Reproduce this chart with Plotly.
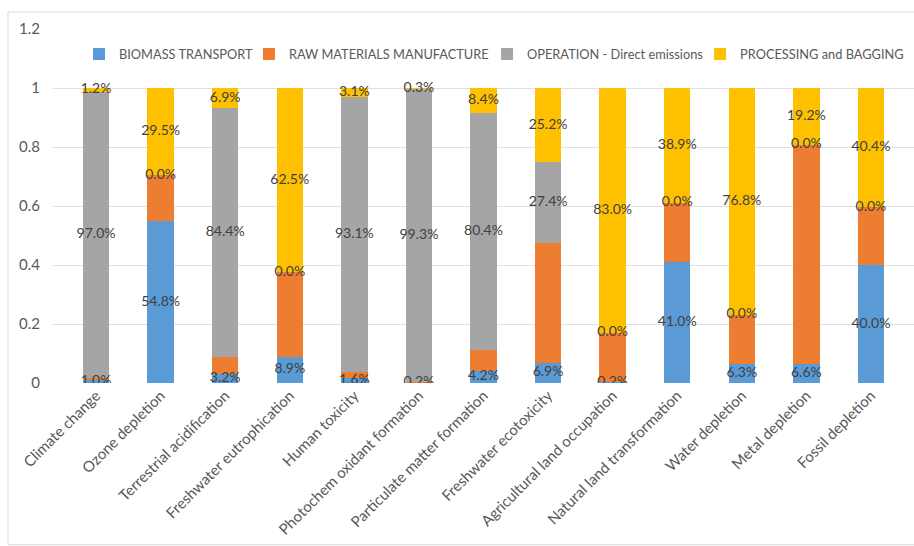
import numpy as np
import plotly.graph_objects as go

categories = ["Climate change", "Ozone depletion", "Terrestrial acidification",
              "Freshwater eutrophication", "Human toxicity", "Photochem oxidant formation",
              "Particulate matter formation", "Freshwater ecotoxicity",
              "Agricultural land occupation", "Natural land transformation",
              "Water depletion", "Metal depletion", "Fossil depletion"]

biomass_transport = [1.0, 54.8, 3.2, 8.9, 1.6, 0.2, 4.2, 6.9, 0.2, 41.0, 6.3, 6.6, 40.0]
raw_materials = [0.8, 15.7, 5.5, 28.6, 2.2, 0.2, 7.0, 40.5, 16.8, 20.1, 16.9, 74.2, 19.6]
operation = [97.0, 0.0, 84.4, 0.0, 93.1, 99.3, 80.4, 27.4, 0.0, 0.0, 0.0, 0.0, 0.0]
processing = [1.2, 29.5, 6.9, 62.5, 3.1, 0.3, 8.4, 25.2, 83.0, 38.9, 76.8, 19.2, 40.4]

series_names = ["BIOMASS TRANSPORT", "RAW MATERIALS MANUFACTURE",
                "OPERATION - Direct emissions", "PROCESSING and BAGGING"]
colors = ["#5B9BD5", "#ED7D31", "#A5A5A5", "#FFC000"]
y_ticks = [0, 0.2, 0.4, 0.6, 0.8, 1, 1.2]
y_tick_labels = ["0", "0.2", "0.4", "0.6", "0.8", "1", "1.2"]

FONT = "Lato, 'Open Sans', sans-serif"
series = [biomass_transport, raw_materials, operation, processing]
fracs = [np.array(s) / 100.0 for s in series]

legend_ids = ["legend", "legend2", "legend3", "legend4"]
legend_x = [0.0302, 0.2276, 0.5041, 0.7515]

fig = go.Figure()
for name, vals, col, lid in zip(series_names, fracs, colors, legend_ids):
    fig.add_trace(go.Bar(x=categories, y=vals, name=name, legend=lid,
                         marker=dict(color=col, line=dict(width=0)), hoverinfo="skip"))

# data labels (Excel-style, at segment centres; orange series not labelled)
base = np.zeros(len(categories))
for i, vals in enumerate(fracs):
    mid = base + vals / 2
    if i != 1:
        fig.add_trace(go.Scatter(x=categories, y=mid, mode="text",
                                 text=[f"{v:.1f}%" for v in series[i]],
                                 textposition="middle center",
                                 textfont=dict(family=FONT, size=14, color="#404040"),
                                 showlegend=False, hoverinfo="skip"))
    base = base + vals

legend_common = dict(orientation="h", y=0.929, xanchor="left", yanchor="middle",
                     font=dict(family=FONT, size=12.8, color="#595959"),
                     itemwidth=30, bgcolor="rgba(255,255,255,0)")

fig.update_layout(
    width=914, height=546,
    barmode="stack", bargap=0.59,
    paper_bgcolor="white", plot_bgcolor="white",
    margin=dict(l=53, r=0, t=29, b=163),
    font=dict(family=FONT, size=13, color="#595959"),
    xaxis=dict(tickangle=-45, tickfont=dict(family=FONT, size=15, color="#595959"),
               showgrid=False, showline=False, ticks=""),
    yaxis=dict(range=[0, 1.2], tickvals=y_ticks, ticktext=y_tick_labels,
               tickfont=dict(family=FONT, size=15, color="#595959"),
               showgrid=True, gridcolor="#E0E0E0", gridwidth=1, zeroline=False,
               showline=False, ticks="", ticklabelstandoff=12),
    shapes=[dict(type="rect", xref="paper", yref="paper",
                 x0=-0.0523, x1=1.05, y0=-0.457, y1=1.048,
                 line=dict(color="#D9D9D9", width=1), layer="below")],
)
for lid, lx in zip(legend_ids, legend_x):
    fig.update_layout({lid: dict(legend_common, x=lx)})

fig.write_html("out.html")
